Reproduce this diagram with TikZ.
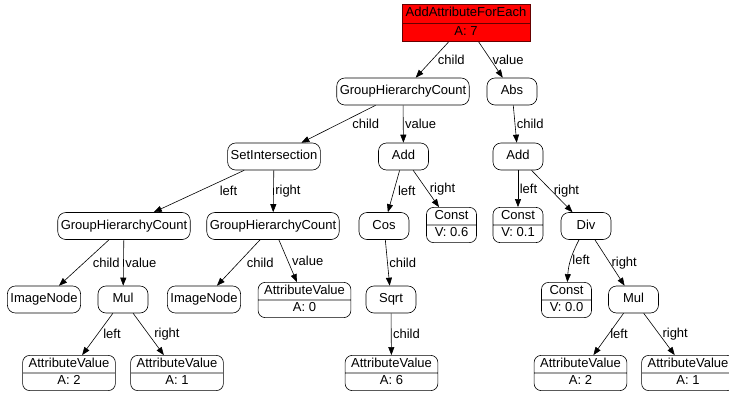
\documentclass[tikz,border=0pt]{standalone}
\usepackage{fontspec}
\setmainfont{Liberation Sans}
\usetikzlibrary{arrows.meta,shapes.multipart}

\newcommand{\vs}{\rule[-3.5pt]{0pt}{13pt}}
\newcommand{\twopart}[2]{\vs#1\nodepart{two}\vs#2}

\tikzset{
  box/.style={rectangle,draw,line width=0.6pt,rounded corners=8pt,fill=white,
    minimum width=50pt,minimum height=27pt,inner xsep=3pt,
    text height=9.5pt,text depth=3pt},
  rec/.style={rectangle split,rectangle split parts=2,draw,line width=0.6pt,
    rounded corners=7pt,fill=white,minimum width=50pt,inner xsep=6pt,
    inner ysep=2pt},
  topbox/.style={rectangle split,rectangle split parts=2,draw=red!40!black,
    line width=0.6pt,fill=red,inner xsep=3.5pt,inner ysep=2.5pt},
  lbl/.style={anchor=west,inner sep=1.5pt,fill=none,draw=none},
  arr/.style={draw,line width=0.6pt,-{Triangle[length=8pt,width=6pt]}}
}

\begin{document}
\begin{tikzpicture}[x=1pt,y=1pt,every node/.style={font=\fontsize{13}{15}\selectfont}]
  \useasboundingbox (0,0) rectangle (729,-394);

  \node[topbox] (root) at (466,-23) {\twopart{AddAttributeForEach}{A: 7}};

  \node[box] (ghcA) at (403,-91.5) {GroupHierarchyCount};
  \node[box] (abs) at (512,-91.5) {Abs};

  \node[box] (setint) at (274,-156.5) {SetIntersection};
  \node[box] (addA) at (403.5,-156.5) {Add};
  \node[box] (addB) at (518,-156.5) {Add};

  \node[box] (ghcB) at (124,-226) {GroupHierarchyCount};
  \node[box] (ghcC) at (273,-226) {GroupHierarchyCount};
  \node[box] (cos) at (384,-226) {Cos};
  \node[rec] (constA) at (451.5,-225) {\twopart{Const}{V: 0.6}};
  \node[rec] (constB) at (518,-225) {\twopart{Const}{V: 0.1}};
  \node[box] (div) at (586,-226) {Div};

  \node[box] (imgA) at (44,-299.5) {ImageNode};
  \node[box] (mulA) at (123,-299.5) {Mul};
  \node[box] (imgB) at (204,-299.5) {ImageNode};
  \node[rec] (attrA) at (304.5,-300) {\twopart{AttributeValue}{A: 0}};
  \node[box] (sqrt) at (391,-299.5) {Sqrt};
  \node[rec] (constC) at (566.5,-300) {\twopart{Const}{V: 0.0}};
  \node[box] (mulB) at (633.5,-299.5) {Mul};

  \node[rec] (attrB) at (69,-373) {\twopart{AttributeValue}{A: 2}};
  \node[rec] (attrC) at (177,-373) {\twopart{AttributeValue}{A: 1}};
  \node[rec] (attrD) at (391.5,-373) {\twopart{AttributeValue}{A: 6}};
  \node[rec] (attrE) at (580.5,-373) {\twopart{AttributeValue}{A: 2}};
  \node[rec] (attrF) at (688,-373) {\twopart{AttributeValue}{A: 1}};

  \path[arr]
    (root) edge node[lbl,xshift=4pt] {child} (ghcA)
           edge node[lbl] {value} (abs)
    (ghcA) edge node[lbl,xshift=12pt] {child} (setint)
           edge node[lbl] {value} (addA)
    (abs) edge node[lbl] {child} (addB)
    (setint) edge node[lbl,xshift=19pt] {left} (ghcB)
             edge node[lbl] {right} (ghcC)
    (addA) edge node[lbl,xshift=2.5pt] {left} (cos)
           edge node[lbl,xshift=2pt] {right} (constA)
    (addB) edge node[lbl] {left} (constB)
           edge node[lbl] {right} (div)
    (ghcB) edge node[lbl,xshift=7pt] {child} (imgA)
           edge node[lbl] {value} (mulA)
    (ghcC) edge node[lbl,xshift=6.5pt] {child} (imgB)
           edge node[lbl,xshift=2.5pt] {value} (attrA)
    (cos) edge node[lbl] {child} (sqrt)
    (div) edge[bend right=12] node[lbl] {left} (constC)
          edge node[lbl] {right} (mulB)
    (mulA) edge node[lbl,xshift=4pt] {left} (attrB)
           edge node[lbl,xshift=4pt] {right} (attrC)
    (sqrt) edge node[lbl] {child} (attrD)
    (mulB) edge node[lbl] {left} (attrE)
           edge node[lbl,xshift=1.5pt] {right} (attrF);
\end{tikzpicture}
\end{document}
